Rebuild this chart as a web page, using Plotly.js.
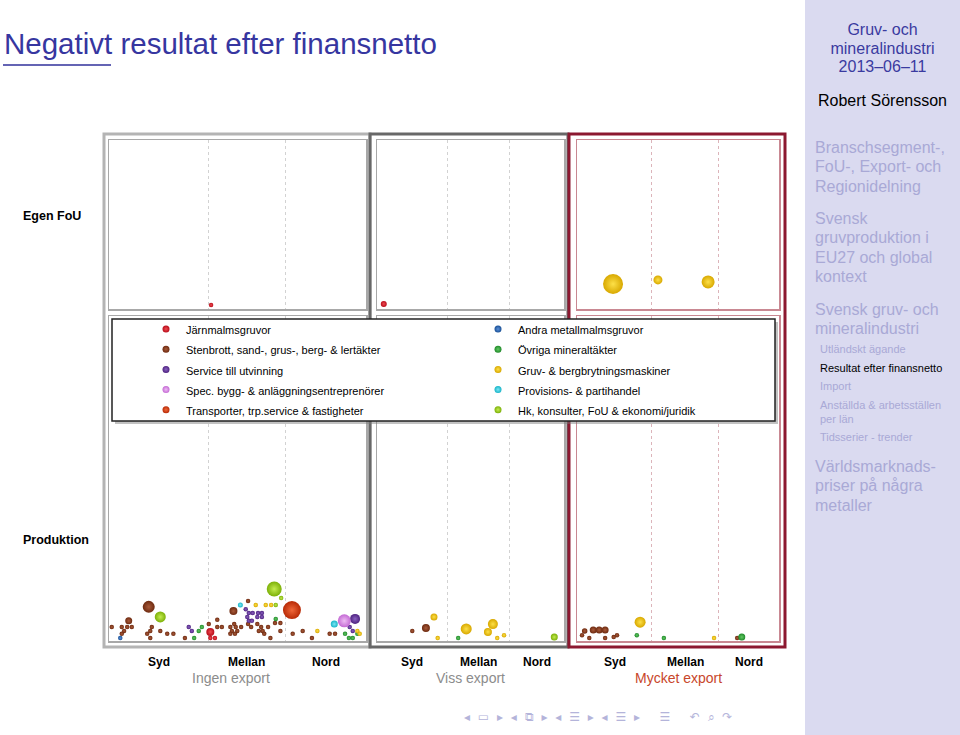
<!DOCTYPE html>
<html><head><meta charset="utf-8">
<script src="https://cdn.plot.ly/plotly-3.0.1.min.js"></script>
<style>
body{margin:0;width:960px;height:735px;overflow:hidden;background:#fff;font-family:"Liberation Sans",Arial,sans-serif;position:relative}
#chart{position:absolute;left:0;top:0;width:805px;height:735px}
#side{position:absolute;left:805px;top:0;width:155px;height:735px;background:#dadaf0}
.t{position:absolute;white-space:nowrap}
.h{position:absolute;left:10px;font-size:16px;line-height:19.3px;color:#a9a9d6;white-space:nowrap}
.s{position:absolute;left:15px;font-size:11px;line-height:14px;color:#a9a9d6;white-space:nowrap}
</style></head><body>
<div id="chart"></div>
<div class="t" style="left:4px;top:27px;font-size:29.5px;color:#3636a0">Negativt resultat efter finansnetto</div>
<div style="position:absolute;left:3px;top:64px;width:108px;height:2px;background:#6464b4"></div>
<div id="side">
  <div style="position:absolute;left:0;width:155px;top:21px;text-align:center;font-size:16px;line-height:18.5px;color:#3a3aa0">Gruv- och<br>mineralindustri<br>2013–06–11</div>
  <div style="position:absolute;left:0;width:155px;top:92px;text-align:center;font-size:16px;line-height:18px;color:#000">Robert Sörensson</div>
  <div class="h" style="top:138px">Branschsegment-,<br>FoU-, Export- och<br>Regionidelning</div>
  <div class="h" style="top:209px">Svensk<br>gruvproduktion i<br>EU27 och global<br>kontext</div>
  <div class="h" style="top:300px">Svensk gruv- och<br>mineralindustri</div>
  <div class="s" style="top:342px">Utländskt ägande</div>
  <div class="s" style="top:361px;color:#000">Resultat efter finansnetto</div>
  <div class="s" style="top:379px">Import</div>
  <div class="s" style="top:398px">Anställda &amp; arbetsställen</div>
  <div class="s" style="top:412px">per län</div>
  <div class="s" style="top:430px">Tidsserier - trender</div>
  <div class="h" style="top:457px">Världsmarknads-<br>priser på några<br>metaller</div>
</div>
<div class="t" style="left:464px;top:710px;font-family:'DejaVu Sans';font-size:12px;color:#b4b4da;letter-spacing:2px">◂ ▭ ▸ ◂ ⧉ ▸ ◂ ☰ ▸ ◂ ☰ ▸ &nbsp; ☰ &nbsp; ↶ ⌕ ↷</div>
<script>
// ---------------- DATA ----------------
const regionLabels = ['Syd', 'Mellan', 'Nord'];
const exportLabels = ['Ingen export', 'Viss export', 'Mycket export'];
const rowLabels = ['Egen FoU', 'Produktion'];
const seriesNames = ['Järnmalmsgruvor', 'Stenbrott, sand-, grus-, berg- & lertäkter', 'Service till utvinning',
  'Spec. bygg- & anläggningsentreprenörer', 'Transporter, trp.service & fastigheter',
  'Andra metallmalmsgruvor', 'Övriga mineraltäkter', 'Gruv- & bergbrytningsmaskiner',
  'Provisions- & partihandel', 'Hk, konsulter, FoU & ekonomi/juridik'];
// panel code: I/V/M = Ingen/Viss/Mycket export, P/F = Produktion / Egen FoU
const jarnmalm = {panel:['IP','IP','IP','IF','VF'], x:[1.03,1.03,1.09,1.04,-0.02], y:[2.8,0.9,0.9,2.4,3.0], size:[8,4.5,4.5,4.5,6]};
const stenbrott = {
  panel:['IP','IP','IP','IP','IP','IP','IP','IP','IP','IP','IP','IP','IP','IP','IP','IP','IP','IP','IP','IP','IP','IP','IP','IP','IP','IP','IP','IP','IP','IP','IP','IP','IP','IP','IP','IP','IP','IP','IP','IP','IP','IP','IP','IP','IP','IP','IP',
         'VP','VP','MP','MP','MP','MP','MP','MP','MP','MP','MP','MP'],
  x:[-0.25,-0.12,-0.05,0.01,-0.09,-0.12,-0.03,0.23,0.27,0.25,0.21,0.25,0.38,0.47,0.55,0.70,1.01,1.12,1.12,1.18,1.34,1.29,1.36,1.43,1.31,1.38,1.29,1.35,1.33,1.52,1.52,1.56,1.64,1.69,1.66,1.71,1.78,1.73,1.87,1.94,1.94,1.81,2.10,2.23,2.35,2.58,2.65,
     0.44,0.66, 0.11,0.20,0.29,-0.02,-0.06,0.05,0.29,0.42,0.47,2.29],
  y:[4.3,4.3,4.3,4.3,3.1,2.2,6.2,10.5,4.3,3.1,2.2,0.9,3.1,2.2,2.2,0.9,5.2,6.5,4.3,4.3,5.2,4.3,4.3,4.3,3.1,3.1,2.2,2.2,9.2,12.3,5.2,4.3,5.2,4.3,3.1,3.1,4.3,2.2,5.5,5.5,3.1,0.9,2.2,3.1,0.9,2.2,2.2,
     3.1,4.0, 3.4,3.4,3.4,3.1,1.8,0.9,0.9,1.2,1.8,0.9],
  size:[4.5,4.5,4.5,4.5,4.5,4.5,7,12,4.5,4.5,4.5,4.5,4.5,4.5,4.5,4.5,4.5,4.5,4.5,4.5,4.5,4.5,4.5,4.5,4.5,4.5,4.5,4.5,8,4.5,4.5,4.5,4.5,4.5,4.5,4.5,4.5,4.5,4.5,4.5,4.5,4.5,4.5,4.5,4.5,4.5,4.5,
     4.5,8, 7,7,7,5.5,4.5,4.5,4.5,4.5,4.5,4.5]};
const service = {panel:['IP','IP','IP','IP','IP','IP','IP','IP','IP','IP','IP','IP','IP','IP','IP'],
  x:[0.75,0.79,1.49,1.53,1.58,1.65,1.70,1.51,1.64,1.70,1.53,1.57,2.91,2.84,2.88],
  y:[4.3,3.1,9.8,8.6,8.6,8.6,8.6,7.4,7.4,7.4,6.2,6.2,6.8,4.3,3.1],
  size:[4.5,4.5,4.5,4.5,4.5,4.5,4.5,4.5,4.5,4.5,4.5,4.5,10,4.5,4.5]};
const specBygg = {panel:['IP'], x:[2.77], y:[6.2], size:[13]};
const transporter = {panel:['IP'], x:[2.09], y:[9.5], size:[18]};
const andraMetall = {panel:['IP'], x:[-0.14], y:[0.9], size:[4.5]};
const ovriga = {panel:['IP','IP','IP','IP','IP','IP','IP','IP','VP','MP','MP','MP'],
  x:[0.82,0.88,0.92,1.88,2.78,2.83,2.88,2.94,1.18,0.77,1.18,2.36],
  y:[0.9,3.1,4.3,6.8,2.2,0.9,0.9,2.2,0.9,1.8,0.9,1.2],
  size:[4.5,4.5,4.5,4.5,4.5,4.5,4.5,4.5,4.5,4.5,4.5,7]};
const gruvMaskiner = {panel:['IP','IP','IP','IP','IP','IP','VP','VP','VP','VP','VP','VP','VP','MP','MP','MF','MF','MF'],
  x:[1.62,1.75,1.82,2.42,2.94,2.97,0.79,0.85,1.31,1.74,1.66,1.81,1.92,0.82,1.94,0.41,1.09,1.85],
  y:[11.1,11.1,11.1,3.1,3.1,2.2,7.4,0.9,3.7,5.2,2.8,0.9,1.8,5.8,0.9,14.8,17.2,16.0],
  size:[4.5,4.5,4.5,4.5,4.5,4.5,7,4.5,11,10,8,4.5,4.5,11,4.5,20,9,13]};
const provisions = {panel:['IP','IP'], x:[1.42,2.64], y:[11.1,5.2], size:[5,7]};
const hkKonsulter = {panel:['IP','IP','IP','IP','VP'], x:[0.38,1.86,1.95,1.88,2.73], y:[7.4,16.0,13.2,11.1,1.2], size:[11,15,4.5,4.5,7]};

const seriesData = [jarnmalm, stenbrott, service, specBygg, transporter, andraMetall, ovriga, gruvMaskiner, provisions, hkKonsulter];
const seriesColors = ['#b80c1a','#6e2a10','#4e2280','#c46ad4','#b82a06','#1a5096','#208a2a','#d8a800','#18b4c8','#7cb008'];
const seriesHighlights = ['#ee4a50','#a85a3a','#8a62c0','#eebcf4','#f0683a','#5a90d8','#62c862','#fde048','#7ae6f4','#c4ec50'];

// ---------------- LAYOUT HELPERS ----------------
const W = 805, H = 735;
const X = p => p / W, Y = p => 1 - p / H;
const FONT = '"Liberation Sans", Arial, sans-serif';
const axisRefs = {IP:['x','y'], VP:['x2','y2'], MP:['x3','y3'], IF:['x4','y4'], VF:['x5','y5'], MF:['x6','y6']};
const colDom = [[109,366],[377,564],[577,779]];
const colRange = [[-0.286,3.052],[-0.129,2.887],[-0.136,2.924]];
const colLine = ['#a8a8a8','#a8a8a8','#c98892'];
const colGrid = ['#d2d2d2','#d2d2d2','#dcb4ba'];
const rowDom = {P:[316,641], F:[140,309]};

const traces = [];
seriesData.forEach((sd, i) => {
  Object.keys(axisRefs).forEach(pc => {
    const idx = sd.panel.map((p, k) => p === pc ? k : -1).filter(k => k >= 0);
    if (!idx.length) return;
    traces.push({
      type:'scatter', mode:'markers', showlegend:false, hoverinfo:'skip',
      xaxis:axisRefs[pc][0], yaxis:axisRefs[pc][1],
      x: idx.map(k => sd.x[k]), y: idx.map(k => sd.y[k]),
      marker:{color:seriesColors[i], size: idx.map(k => sd.size[k]), sizemode:'diameter', opacity:1,
              line:{width:0}, gradient:{type:'radial', color:seriesHighlights[i]}}
    });
  });
});
// legend entries (row pitch from legend font, visible text at 11px)
seriesNames.forEach((n, i) => {
  traces.push({type:'scatter', mode:'markers', name:'<span style="font-size:11px">' + n + '</span>', x:[null], y:[null], xaxis:'x', yaxis:'y',
    legend: i < 5 ? 'legend' : 'legend2', showlegend:true,
    marker:{color:seriesColors[i], size:7, opacity:1, line:{width:0}, gradient:{type:'radial', color:seriesHighlights[i]}}});
});

const layout = {
  width:W, height:H, margin:{l:0,r:0,t:0,b:0},
  paper_bgcolor:'#fff', plot_bgcolor:'#fff', font:{family:FONT, size:11, color:'#000'},
  showlegend:true, shapes:[], annotations:[]
};
const cols = ['I','V','M'];
cols.forEach((c, ci) => {
  ['P','F'].forEach(r => {
    const n = {IP:'',VP:'2',MP:'3',IF:'4',VF:'5',MF:'6'}[c + r];
    layout['xaxis' + n] = {domain:[X(colDom[ci][0]), X(colDom[ci][1])], range:colRange[ci], anchor:'y' + n,
      showline:true, mirror:true, linecolor:colLine[ci], linewidth:1.5, showgrid:true, gridcolor:colGrid[ci],
      gridwidth:1, griddash:'dot', tickmode:'array', tickvals:[1,2], showticklabels:false, ticks:'', zeroline:false, fixedrange:true};
    layout['yaxis' + n] = {domain:[Y(rowDom[r][1]), Y(rowDom[r][0])], range:[0,100], anchor:'x' + n,
      showline:true, mirror:true, linecolor:colLine[ci], linewidth:1.5, showgrid:false, showticklabels:false,
      ticks:'', zeroline:false, fixedrange:true};
  });
  // region labels at region centres
  const rg = colRange[ci];
  const centers = [(rg[0] + 1) / 2, 1.5, (2 + rg[1]) / 2];
  regionLabels.forEach((lab, k) => {
    layout.annotations.push({xref: ci === 0 ? 'x' : 'x' + (ci + 1), yref:'paper', x:centers[k], y:Y(662),
      text:'<b>' + lab + '</b>', showarrow:false, font:{size:12, family:FONT, color:'#000'}, xanchor:'center', yanchor:'middle'});
  });
  layout.annotations.push({xref:'paper', yref:'paper', x:X((colDom[ci][0] + colDom[ci][1]) / 2) - (ci === 0 ? 0.008 : 0), y:Y(678),
    text:exportLabels[ci], showarrow:false, font:{size:14, family:FONT, color: ci === 2 ? '#c8462a' : '#8c8c8c'},
    xanchor:'center', yanchor:'middle'});
});
rowLabels.forEach((lab, k) => {
  layout.annotations.push({xref:'paper', yref:'paper', x:X(21), y:Y(k === 0 ? 216 : 540), text:'<b>' + lab + '</b>',
    showarrow:false, xanchor:'left', yanchor:'middle', font:{size:12.5, family:FONT, color:'#000'}});
});
// outer frames
layout.shapes.push({type:'rect', xref:'paper', yref:'paper', x0:X(104), x1:X(370), y0:Y(647), y1:Y(134), line:{color:'#b4b4b4', width:3}, layer:'below'});
layout.shapes.push({type:'rect', xref:'paper', yref:'paper', x0:X(370), x1:X(568), y0:Y(647), y1:Y(134), line:{color:'#686868', width:3}, layer:'below'});
layout.shapes.push({type:'rect', xref:'paper', yref:'paper', x0:X(569), x1:X(785), y0:Y(647), y1:Y(134), line:{color:'#8c1830', width:3}, layer:'below'});
// legend box with shadow
layout.shapes.push({type:'rect', xref:'paper', yref:'paper', x0:X(115), x1:X(778), y0:Y(424), y1:Y(322), fillcolor:'rgba(120,120,120,0.45)', line:{width:0}, layer:'above'});
layout.shapes.push({type:'rect', xref:'paper', yref:'paper', x0:X(112), x1:X(775), y0:Y(421), y1:Y(319), fillcolor:'#fff', line:{color:'#222', width:1.5}, layer:'above'});
const legBase = {yanchor:'top', xanchor:'left', y:Y(314), bgcolor:'rgba(0,0,0,0)', borderwidth:0, orientation:'v',
  font:{size:13.2, family:FONT, color:'#000'}, itemwidth:30, tracegroupgap:0};
layout.legend = Object.assign({}, legBase, {x:X(146)});
layout.legend2 = Object.assign({}, legBase, {x:X(478)});

Plotly.newPlot('chart', traces, layout, {displayModeBar:false, staticPlot:true});
</script>
</body></html>
